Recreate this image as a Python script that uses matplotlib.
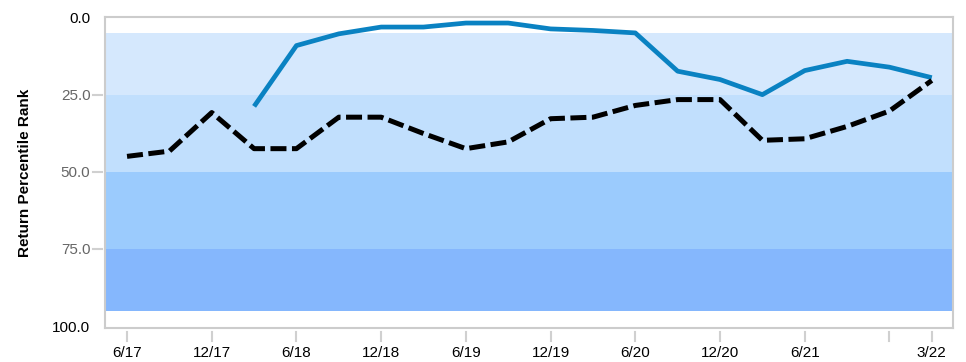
import numpy as np
import matplotlib
matplotlib.use("Agg")
import matplotlib.pyplot as plt
import matplotlib.transforms as mtransforms

plt.rcParams['font.family'] = ['Liberation Sans', 'DejaVu Sans']

# quarterly periods, 6/17 .. 3/22
quarters = ["6/17", "9/17", "12/17", "3/18", "6/18", "9/18", "12/18", "3/19",
            "6/19", "9/19", "12/19", "3/20", "6/20", "9/20", "12/20", "3/21",
            "6/21", "9/21", "12/21", "3/22"]
fund_rank = [np.nan, np.nan, np.nan, 28.8, 9.1, 5.3, 3.1, 3.1, 1.8, 1.8,
             3.7, 4.2, 5.0, 17.4, 20.1, 25.0, 17.2, 14.2, 16.1, 19.5]
bench_rank = [45.0, 43.3, 30.8, 42.5, 42.5, 32.3, 32.3, 37.6, 42.5, 40.3,
              32.8, 32.3, 28.5, 26.6, 26.6, 39.8, 39.3, 35.3, 30.3, 20.4]
tick_quarters = ["6/17", "12/17", "6/18", "12/18", "6/19", "12/19", "6/20",
                 "12/20", "6/21", "12/21", "3/22"]
tick_labels = ["6/17", "12/17", "6/18", "12/18", "6/19", "12/19", "6/20",
               "12/20", "6/21", "", "3/22"]
bands = [(5, 25), (25, 50), (50, 75), (75, 95)]
band_colors = ["#d5e8fd", "#c1dffd", "#9bcbfd", "#85b7fd"]
y_ticks = [0, 25, 50, 75, 100]

x = np.arange(len(quarters))
tick_pos = [quarters.index(q) for q in tick_quarters]

fig = plt.figure(figsize=(9.66, 3.62), dpi=100)
ax = fig.add_axes([0.1087, 0.0931, 0.8778, 0.8586])

for (lo, hi), c in zip(bands, band_colors):
    ax.axhspan(lo, hi, color=c, lw=0, zorder=0)

ax.plot(x, fund_rank, color="#0a82c2", lw=3.4, solid_capstyle="butt", zorder=3)
ax.plot(x, bench_rank, color="black", lw=3.6, dashes=(3.2, 1.1),
        dash_capstyle="butt", zorder=4)

ax.set_xlim(-0.52, 19.5)
ax.set_ylim(100.7, 0)

ax.set_yticks(y_ticks)
ax.set_yticklabels([f"{v:.1f}" for v in y_ticks])
for lbl, v in zip(ax.get_yticklabels(), y_ticks):
    lbl.set_color("black" if v in (0, 100) else "#666666")
ax.tick_params(axis="y", length=0, pad=10.5, labelsize=11)

ax.set_xticks(tick_pos)
ax.set_xticklabels(tick_labels)
ax.tick_params(axis="x", length=0, pad=12.5, labelsize=11)

# detached gray tick marks
bx = mtransforms.blended_transform_factory(ax.transData, ax.transAxes)
for p in tick_pos:
    ax.plot([p, p], [-0.011, -0.040], transform=bx, color="#d0d0d0",
            lw=1.5, clip_on=False)
by = mtransforms.blended_transform_factory(ax.transAxes, ax.transData)
for v in y_ticks[1:-1]:
    ax.plot([-0.0145, -0.003], [v, v], transform=by, color="#d0d0d0",
            lw=1.5, clip_on=False)

for s in ax.spines.values():
    s.set_color("#cccccc")
    s.set_linewidth(1.5)

ax.set_ylabel("Return Percentile Rank", fontsize=11, fontweight="bold")
ax.yaxis.set_label_coords(-0.086, 0.5)

fig.savefig("out.png", dpi=100)
